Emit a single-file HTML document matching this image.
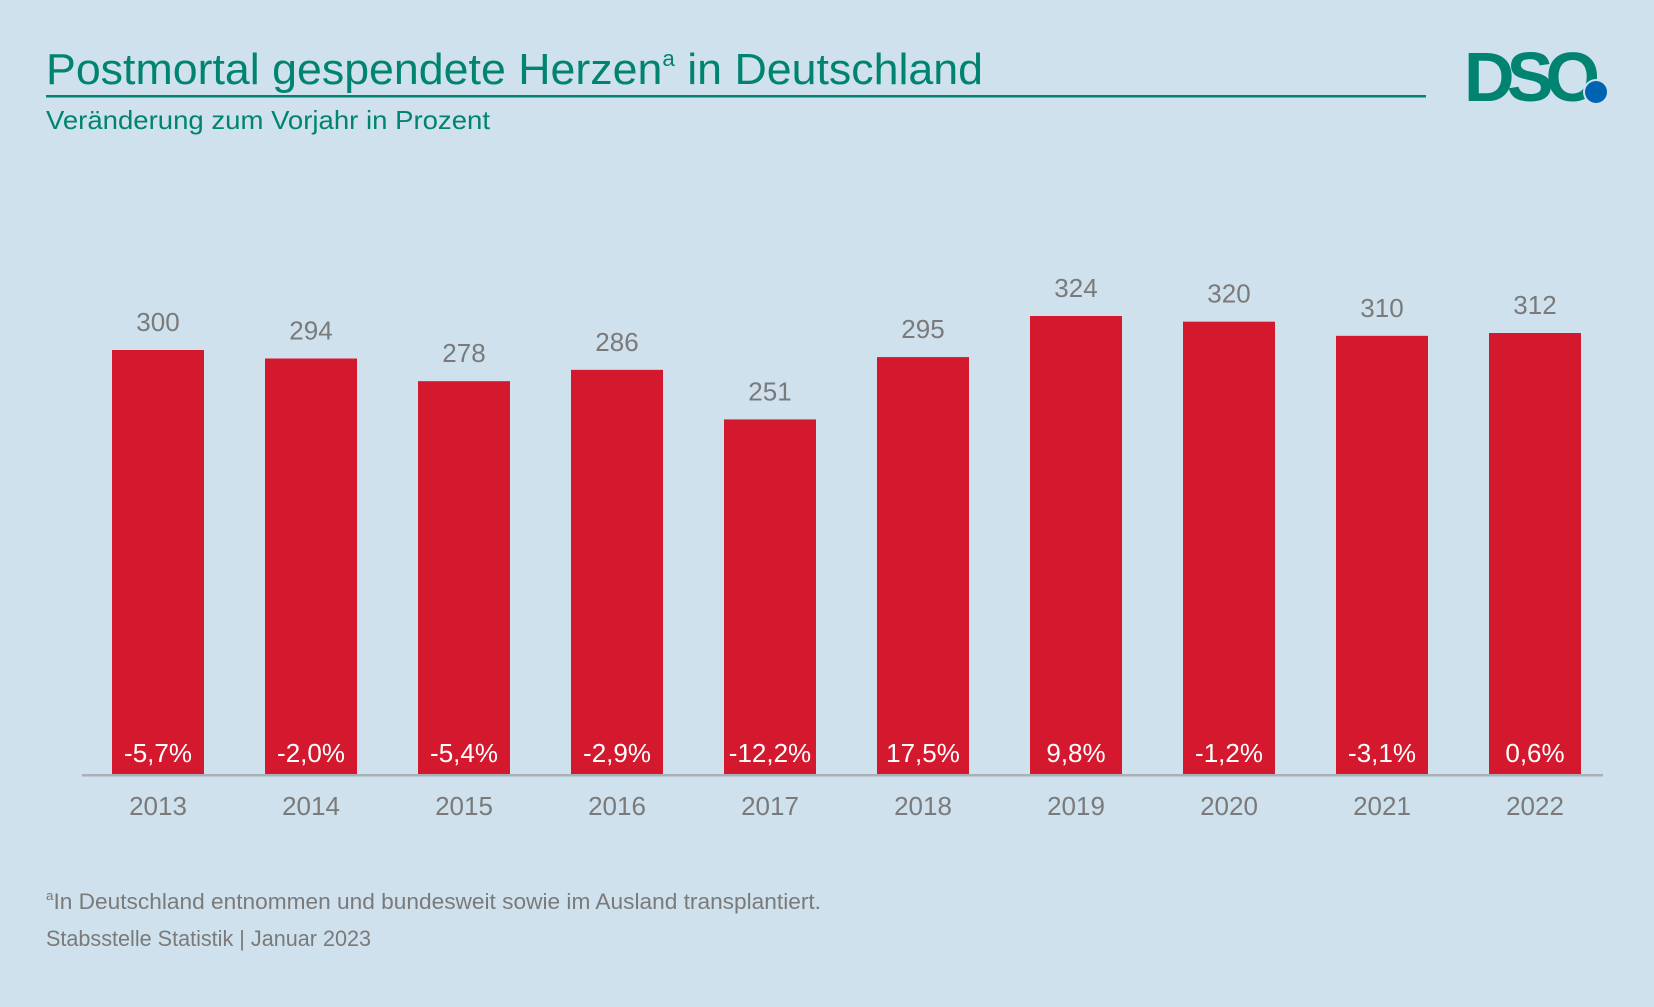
<!DOCTYPE html>
<html><head><meta charset="utf-8"><style>
body{margin:0;width:1654px;height:1002px;background:#cfe1ec;font-family:"Liberation Sans",sans-serif;overflow:hidden}
</style></head><body>
<svg width="1654" height="1002">
<text x="46" y="84" font-size="44" fill="#008471" textLength="937" lengthAdjust="spacingAndGlyphs">Postmortal gespendete Herzen<tspan font-size="22" dy="-18">a</tspan><tspan dy="18"> in Deutschland</tspan></text>
<rect x="46" y="95" width="1380" height="2.5" fill="#008471"/>
<text x="46" y="129" font-size="26" fill="#008471" textLength="444" lengthAdjust="spacingAndGlyphs">Veränderung zum Vorjahr in Prozent</text>
<g>
<text x="1464" y="101" font-size="70" font-weight="bold" fill="#008471" letter-spacing="-6" textLength="130">DSO</text>
<circle cx="1596" cy="92" r="13" fill="#cfe1ec"/>
<circle cx="1596" cy="92" r="11" fill="#0063b1"/>
</g>
<g id="bars"></g>
<rect x="82" y="774" width="1521" height="2.5" fill="#a8b0b8"/>
<text x="46" y="909" font-size="22" fill="#7a7a7a" textLength="775" lengthAdjust="spacingAndGlyphs"><tspan font-size="13" dy="-9">a</tspan><tspan dy="9">In Deutschland entnommen und bundesweit sowie im Ausland transplantiert.</tspan></text>
<text x="46" y="946" font-size="22" fill="#7a7a7a" textLength="325" lengthAdjust="spacingAndGlyphs">Stabsstelle Statistik | Januar 2023</text>
</svg>
<script>
const years=["2013","2014","2015","2016","2017","2018","2019","2020","2021","2022"];
const values=[300,294,278,286,251,295,324,320,310,312];
const changes=["-5,7%","-2,0%","-5,4%","-2,9%","-12,2%","17,5%","9,8%","-1,2%","-3,1%","0,6%"];
const NS="http://www.w3.org/2000/svg";
const base=775, scale=425/300, x0=112, pitch=153, bw=92;
const xPos=i=>x0+i*pitch;
const yPos=v=>base-v*scale;
const g=document.getElementById('bars');
function mk(tag,attrs,txt){const e=document.createElementNS(NS,tag);for(const k in attrs)e.setAttribute(k,attrs[k]);if(txt!==undefined)e.textContent=txt;g.appendChild(e);return e;}
years.forEach((y,i)=>{
 const x=xPos(i),top=yPos(values[i]),cx=x+bw/2;
 const r=mk('rect',{x:x,y:top,width:bw,height:base-top,fill:'#d4192f'});
 
 
 const v=mk('text',{x:cx,y:top-19,'font-size':26,fill:'#7a7a7a','text-anchor':'middle'},String(values[i]));
 
 
 const c=mk('text',{x:cx,y:762,'font-size':26,fill:'#fff','text-anchor':'middle'},changes[i]);
 
 
 const t=mk('text',{x:cx,y:815,'font-size':26,fill:'#7a7a7a','text-anchor':'middle'},y);
 
 
});
</script>
</body></html>
